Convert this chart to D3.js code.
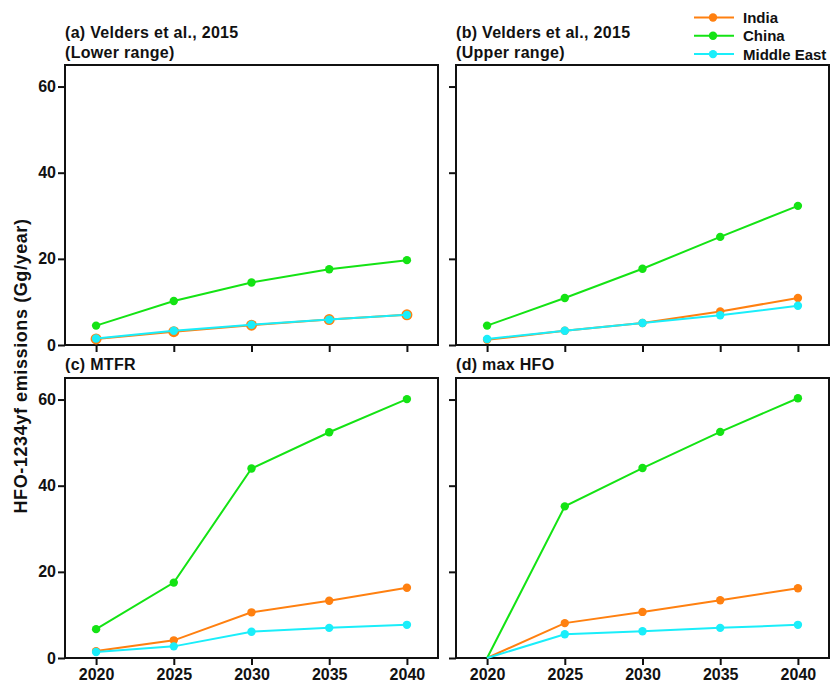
<!DOCTYPE html>
<html>
<head>
<meta charset="utf-8">
<script src="https://cdn.jsdelivr.net/npm/d3@7"></script>
<style>
  body { margin: 0; background: #fff; }
  svg text { font-family: 'Liberation Sans', Arial, sans-serif; font-weight: bold; fill: #111; }
</style>
</head>
<body>
<svg id="chart" width="831" height="686"></svg>
<script>
// years on the x axis
const years = [2020, 2025, 2030, 2035, 2040]
const yTicks = [0, 20, 40, 60]

const regions = ['India', 'China', 'Middle East']
const colors = ['#ff8010', '#14e314', '#1aeefa']

// HFO-1234yf emissions (Gg/year) per panel and region
const lowerIndia = [1.4, 3.1, 4.6, 5.9, 7.0]
const lowerChina = [4.5, 10.2, 14.5, 17.6, 19.7]
const lowerMiddleEast = [1.5, 3.3, 4.7, 5.9, 7.0]

const upperIndia = [1.2, 3.3, 5.1, 7.8, 10.9]
const upperChina = [4.5, 10.9, 17.7, 25.1, 32.3]
const upperMiddleEast = [1.4, 3.3, 5.1, 6.9, 9.1]

const mtfrIndia = [1.6, 4.1, 10.6, 13.3, 16.3]
const mtfrChina = [6.7, 17.5, 44.0, 52.4, 60.1]
const mtfrMiddleEast = [1.4, 2.7, 6.1, 7.0, 7.7]

const maxIndia = [0, 8.1, 10.7, 13.4, 16.2]
const maxChina = [0, 35.2, 44.1, 52.5, 60.3]
const maxMiddleEast = [0, 5.5, 6.2, 7.0, 7.7]

const panels = [
  { title: ['(a) Velders et al., 2015', '(Lower range)'], series: [lowerIndia, lowerChina, lowerMiddleEast], col: 0, row: 0, bigIndia: true },
  { title: ['(b) Velders et al., 2015', '(Upper range)'], series: [upperIndia, upperChina, upperMiddleEast], col: 1, row: 0 },
  { title: ['(c) MTFR'], series: [mtfrIndia, mtfrChina, mtfrMiddleEast], col: 0, row: 1 },
  { title: ['(d) max HFO'], series: [maxIndia, maxChina, maxMiddleEast], col: 1, row: 1 }
]

const svg = d3.select('#chart')
const lefts = [65, 456]
const tops = [65, 378]
const w = 373
const h = 280

panels.forEach(p => {
  const g = svg.append('g')
    .attr('transform', `translate(${lefts[p.col]},${tops[p.row]})`)

  const x = d3.scaleLinear().domain([2018, 2042]).range([0, w])
  const y = d3.scaleLinear().domain([0, 65]).range([h, 0])

  // axes
  const xAxis = d3.axisBottom(x).tickValues(years).tickSize(7).tickPadding(4)
    .tickFormat(p.row === 1 ? d3.format('d') : '')
  const yAxis = d3.axisLeft(y).tickValues(yTicks).tickSize(7).tickPadding(2)
    .tickFormat(p.col === 0 ? d3.format('d') : '')

  const gx = g.append('g').attr('transform', `translate(0,${h})`).call(xAxis)
  const gy = g.append('g').call(yAxis)
  for (const a of [gx, gy]) {
    a.select('.domain').remove()
    a.selectAll('line').attr('stroke', '#111').attr('stroke-width', 2)
    a.selectAll('text').style('font-size', '16px')
  }

  // frame
  g.append('rect')
    .attr('width', w)
    .attr('height', h)
    .attr('fill', 'none')
    .attr('stroke', '#111')
    .attr('stroke-width', 2)

  // title
  const t = g.append('text')
    .attr('x', 0)
    .attr('y', p.title.length === 2 ? -27.5 : -8)
    .style('font-size', '16px')
    .style('letter-spacing', '0.3px')
  p.title.forEach((line, i) => {
    t.append('tspan').attr('x', 0).attr('dy', i === 0 ? 0 : 20).text(line)
  })

  const line = d3.line().x((d, i) => x(years[i])).y(d => y(d))

  p.series.forEach((vals, k) => {
    g.append('path')
      .datum(vals)
      .attr('d', line)
      .attr('fill', 'none')
      .attr('stroke', colors[k])
      .attr('stroke-width', 2)
    g.selectAll(null)
      .data(vals.map((v, i) => ({ v, i })).filter(d => d.v > 0))
      .join('circle')
      .attr('cx', d => x(years[d.i]))
      .attr('cy', d => y(d.v))
      .attr('r', p.bigIndia && k === 0 ? 5.5 : 4.2)
      .attr('fill', colors[k])
  })
})

// y axis title
svg.append('text')
  .attr('transform', 'translate(27,366) rotate(-90)')
  .attr('text-anchor', 'middle')
  .style('font-size', '18px')
  .style('letter-spacing', '0.6px')
  .text('HFO-1234yf emissions (Gg/year)')

// legend
const legend = svg.append('g').attr('transform', 'translate(694,0)')
regions.forEach((r, k) => {
  const yy = 17.5 + k * 18.3
  legend.append('line')
    .attr('x1', 0).attr('x2', 40).attr('y1', yy).attr('y2', yy)
    .attr('stroke', colors[k]).attr('stroke-width', 2)
  legend.append('circle')
    .attr('cx', 19).attr('cy', yy).attr('r', 4.2).attr('fill', colors[k])
  legend.append('text')
    .attr('x', 49).attr('y', yy + 5.5)
    .style('font-size', '15px')
    .text(r)
})
</script>
</body>
</html>
